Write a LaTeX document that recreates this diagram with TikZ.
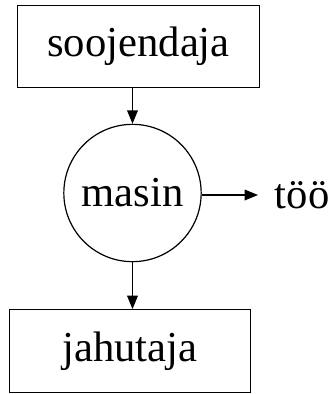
\documentclass[tikz,border=0pt]{standalone}
\usepackage{fontspec}
\setmainfont{Liberation Serif}
\usetikzlibrary{arrows.meta}
\begin{document}
\begin{tikzpicture}[x=0.75pt,y=-0.75pt,
    box/.style={draw, line width=0.9pt, minimum width=181pt, minimum height=62pt, inner sep=0pt},
    ring/.style={draw, circle, line width=0.9pt, minimum size=103pt, inner sep=0pt},
    flow/.style={line width=0.9pt, -{Stealth[length=10pt,width=8pt,inset=0pt]}},
    font=\fontsize{32}{38}\selectfont]
    \useasboundingbox (0,0) rectangle (331,394);
    % boxes and machine
    \node[box] (soojendaja) at (138.5,46.5) {soojendaja};
    \node[ring] (masin) at (132.5,193) {masin};
    \node[box] (jahutaja) at (130,351) {jahutaja};
    \node[anchor=west, inner xsep=12.5pt, inner ysep=0pt] (too) at (258,195) {töö};
    % arrows
    \draw[flow] (masin.north |- soojendaja.south) -- (masin.north);
    \draw[flow] (masin.east |- too.west) -- (too.west);
    \draw[flow] (masin.south) -- (masin.south |- jahutaja.north);
\end{tikzpicture}
\end{document}
